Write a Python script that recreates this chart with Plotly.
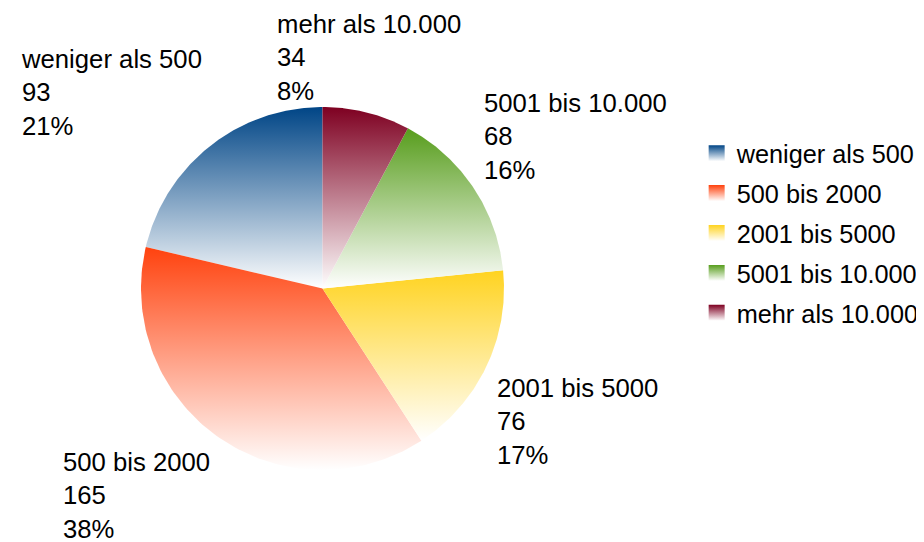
import numpy as np
import plotly.graph_objects as go

# data
categories = ["weniger als 500", "500 bis 2000", "2001 bis 5000", "5001 bis 10.000", "mehr als 10.000"]
counts = [93, 165, 76, 68, 34]
colors = ["#004586", "#ff420e", "#ffd320", "#579d1c", "#7e0021"]

FONT = "Liberation Sans, Arial, sans-serif"
# the page body adds an 8px margin, so the figure is drawn a bit smaller
W, H = 916, 534
CX, CY, R = 314.5, 280.5, 181.5  # pie centre / radius in pixels

total = sum(counts)
shares = [c / total for c in counts]

fig = go.Figure()

# slices: counter-clockwise from 12 o'clock, vertical gradient to white
start = 0.0
label_angles = []
for name, share, col in zip(categories, shares, colors):
    a = np.linspace(start, start + share, 120) * 2 * np.pi
    xs = np.concatenate([[0], -np.sin(a), [0]])
    ys = np.concatenate([[0], np.cos(a), [0]])
    fig.add_trace(go.Scatter(
        x=xs, y=ys, mode="lines", fill="toself",
        line=dict(width=0, color=col),
        fillgradient=dict(type="vertical", colorscale=[[0, "white"], [1, col]]),
        legendgroup=name, showlegend=False, hoverinfo="skip",
    ))
    label_angles.append((start + share / 2) * 2 * np.pi)
    start += share

# legend entries as gradient squares
for name, col in zip(categories, colors):
    fig.add_trace(go.Scatter(
        x=[None], y=[None], mode="markers", name=name, legendgroup=name,
        marker=dict(symbol="square", size=16, color=col,
                    gradient=dict(type="vertical", color="white")),
    ))

# outside labels
off = 1 + 10 / R
for name, cnt, share, ang in zip(categories, counts, shares, label_angles):
    sx, sy = -np.sin(ang), np.cos(ang)
    xa = "left" if sx > 0.3 else ("right" if sx < -0.3 else "center")
    ya = "bottom" if sy > 0 else "top"
    fig.add_annotation(
        x=sx * off, y=sy * off, xref="x", yref="y",
        yshift=-4 if ya == "bottom" else -1,
        text=f"{name}<br>{cnt}<br>{share * 100:.0f}%",
        showarrow=False, xanchor=xa, yanchor=ya, align="left",
        font=dict(family=FONT, size=25.7, color="black"),
    )

fig.update_xaxes(range=[-CX / R, (W - CX) / R], visible=False)
fig.update_yaxes(range=[-(H - CY) / R, CY / R], visible=False)
fig.update_layout(
    width=W, height=H,
    margin=dict(l=0, r=0, t=0, b=0),
    paper_bgcolor="white", plot_bgcolor="white",
    font=dict(family=FONT, size=25, color="black"),
    legend=dict(x=0.7518, y=0.771, xanchor="left", yanchor="top",
                tracegroupgap=4, font=dict(size=25.3)),
)

fig.write_html("out.html")
